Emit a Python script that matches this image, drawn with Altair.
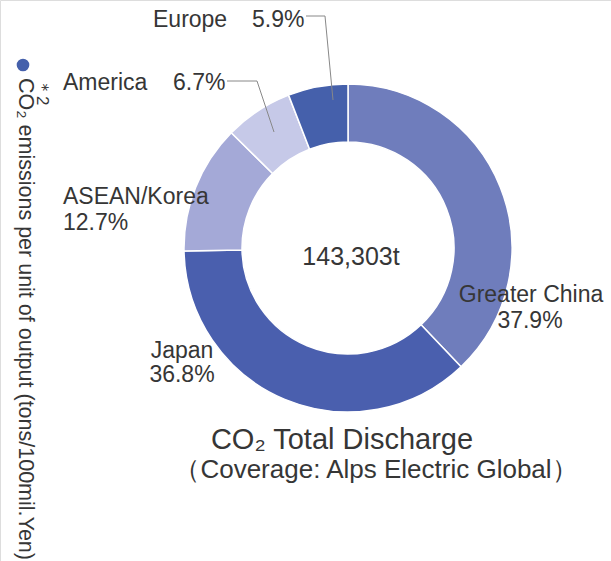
import altair as alt
import pandas as pd

regions = ["Greater China", "Japan", "ASEAN/Korea", "America", "Europe"]
shares = [37.9, 36.8, 12.7, 6.7, 5.9]
colors = ["#6f7dbc", "#4a5fae", "#a4a9d7", "#c6c9e8", "#4560ab"]
total_label = "143,303t"
title_lines = ["CO₂ Total Discharge", "（Coverage: Alps Electric Global）"]
side_label = "CO₂ emissions per unit of output (tons/100mil.Yen)"

FONT = "Liberation Sans"
TXT = "#363636"
CX, CY = 348, 248

df = pd.DataFrame({"region": regions, "share": shares, "order": list(range(len(regions)))})

arcs = alt.Chart(df).mark_arc(
    innerRadius=106, outerRadius=164, stroke="white", strokeWidth=1.5
).encode(
    theta=alt.Theta("share:Q", stack=True),
    order=alt.Order("order:Q"),
    color=alt.Color("region:N", scale=alt.Scale(domain=regions, range=colors), legend=None),
    x=alt.value(CX), y=alt.value(CY),
)

# label layout (annotation positions)
lab = pd.DataFrame([
    {"t": "Europe", "x": 153, "y": 20, "a": "left", "s": 23},
    {"t": f"{shares[4]}%", "x": 252, "y": 20, "a": "left", "s": 23},
    {"t": "America", "x": 63, "y": 83, "a": "left", "s": 23},
    {"t": f"{shares[3]}%", "x": 173, "y": 83, "a": "left", "s": 23},
    {"t": "ASEAN/Korea", "x": 63, "y": 197, "a": "left", "s": 23},
    {"t": f"{shares[2]}%", "x": 63, "y": 223, "a": "left", "s": 23},
    {"t": "Japan", "x": 182, "y": 351, "a": "center", "s": 23},
    {"t": f"{shares[1]}%", "x": 182, "y": 375, "a": "center", "s": 23},
    {"t": "Greater China", "x": 531, "y": 295, "a": "center", "s": 23},
    {"t": f"{shares[0]}%", "x": 530, "y": 321, "a": "center", "s": 23},
    {"t": total_label, "x": 351, "y": 257, "a": "center", "s": 25},
])

def text_layer(d, align):
    return alt.Chart(d).mark_text(
        font=FONT, color=TXT, align=align, baseline="middle"
    ).encode(
        x=alt.X("x:Q", scale=None), y=alt.Y("y:Q", scale=None),
        text="t:N", size=alt.Size("s:Q", scale=None, legend=None),
    )

labels_left = text_layer(lab[lab.a == "left"], "left")
labels_center = text_layer(lab[lab.a == "center"], "center")

titles = pd.DataFrame({"t": title_lines, "x": [342, 376], "y": [440, 470], "s": [29, 26]})
title_layer = alt.Chart(titles).mark_text(
    font=FONT, color=TXT, align="center", baseline="middle"
).encode(x=alt.X("x:Q", scale=None), y=alt.Y("y:Q", scale=None), text="t:N",
         size=alt.Size("s:Q", scale=None, legend=None))

leaders = pd.DataFrame([
    {"g": "eu", "i": 0, "x": 306, "y": 16},
    {"g": "eu", "i": 1, "x": 325, "y": 16},
    {"g": "eu", "i": 2, "x": 333, "y": 100},
    {"g": "am", "i": 0, "x": 227, "y": 81},
    {"g": "am", "i": 1, "x": 257, "y": 81},
    {"g": "am", "i": 2, "x": 274, "y": 132},
])
leader_layer = alt.Chart(leaders).mark_line(color="#888888", strokeWidth=1).encode(
    x=alt.X("x:Q", scale=None), y=alt.Y("y:Q", scale=None),
    detail="g:N", order="i:Q",
)

side = pd.DataFrame({"t": [side_label], "x": [25], "y": [78]})
side_layer = alt.Chart(side).mark_text(
    font=FONT, fontSize=21.5, color=TXT, align="left", baseline="middle", angle=90
).encode(x=alt.X("x:Q", scale=None), y=alt.Y("y:Q", scale=None), text="t:N")

dot = alt.Chart(pd.DataFrame({"x": [23], "y": [65]})).mark_point(
    filled=True, color="#4560ab", size=160, opacity=1
).encode(x=alt.X("x:Q", scale=None), y=alt.Y("y:Q", scale=None))

star = alt.Chart(pd.DataFrame({"t": ["＊2"], "x": [42], "y": [79]})).mark_text(
    font=FONT, fontSize=17, color=TXT, align="left", baseline="middle", angle=90
).encode(x=alt.X("x:Q", scale=None), y=alt.Y("y:Q", scale=None), text="t:N")

chart = alt.layer(
    arcs, leader_layer, labels_left, labels_center, title_layer, side_layer, dot, star
).properties(
    width=611, height=561, padding=0, autosize=alt.AutoSizeParams(type="none")
).configure_view(stroke=None).configure(background="white")

chart.save("out.html", embed_options={"renderer": "svg", "actions": False})
